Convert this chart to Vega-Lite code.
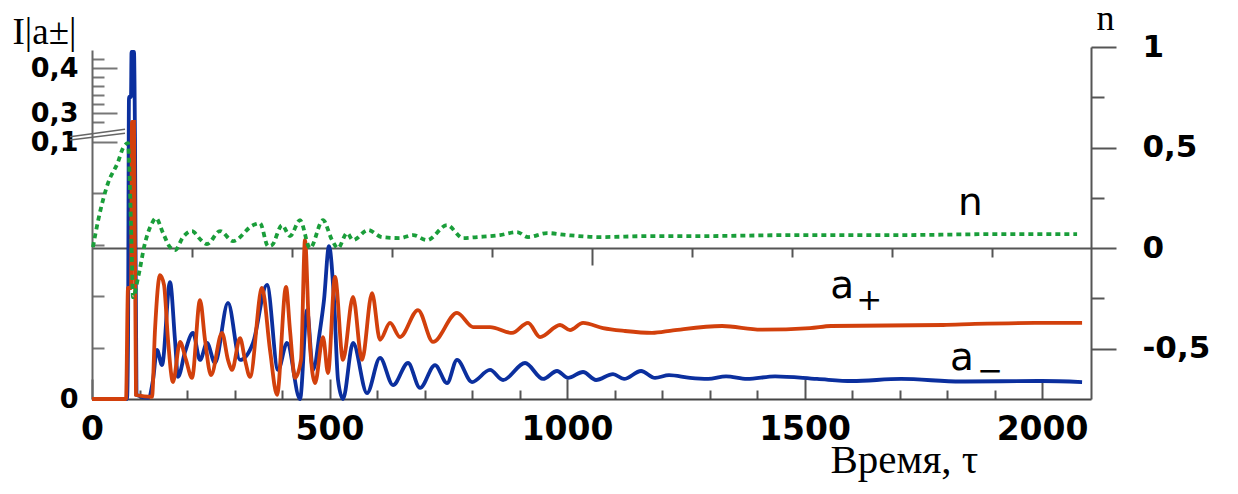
{
  "$schema": "https://vega.github.io/schema/vega-lite/v6.json",
  "width": 999,
  "height": 352,
  "autosize": "none",
  "padding": {"left": 92, "top": 47, "right": 147, "bottom": 95},
  "background": "white",
  "datasets": {
    "aminus": [
      {"tau": 0, "a": 0}, {"tau": 73.7, "a": 0}, {"tau": 75.8, "a": 0.0222}, {"tau": 77.9, "a": 0.3356}, {"tau": 82.1, "a": 0.3356},
      {"tau": 83.2, "a": 0.4356}, {"tau": 88.4, "a": 0.4356}, {"tau": 90.5, "a": 0.136}, {"tau": 93.7, "a": 0.0016}, {"tau": 117.9, "a": 0.0004},
      {"tau": 128.4, "a": 0.0074}, {"tau": 136.8, "a": 0.0191}, {"tau": 147.4, "a": 0.0132}, {"tau": 164.2, "a": 0.0455}, {"tau": 174.7, "a": 0.023},
      {"tau": 181.1, "a": 0.0086}, {"tau": 195.8, "a": 0.0183}, {"tau": 212.6, "a": 0.0257}, {"tau": 227.4, "a": 0.0152}, {"tau": 242.1, "a": 0.0218},
      {"tau": 258.9, "a": 0.014}, {"tau": 286.3, "a": 0.0374}, {"tau": 311.6, "a": 0.0152}, {"tau": 338.9, "a": 0.0218}, {"tau": 368.4, "a": 0.0444},
      {"tau": 391.6, "a": 0.0113}, {"tau": 410.5, "a": 0.0218}, {"tau": 437.9, "a": 0}, {"tau": 452.6, "a": 0.0346}, {"tau": 465.3, "a": 0.0113},
      {"tau": 480, "a": 0.0268}, {"tau": 488.4, "a": 0.0385}, {"tau": 498.9, "a": 0.0595}, {"tau": 509.5, "a": 0.0385}, {"tau": 517.9, "a": 0.0074},
      {"tau": 528.4, "a": 0}, {"tau": 549.5, "a": 0.0218}, {"tau": 578.9, "a": 0.0023}, {"tau": 606.3, "a": 0.016}, {"tau": 633.7, "a": 0.0054},
      {"tau": 665.3, "a": 0.014}, {"tau": 690.5, "a": 0.0043}, {"tau": 722.1, "a": 0.0132}, {"tau": 747.4, "a": 0.0062}, {"tau": 768.4, "a": 0.0152},
      {"tau": 800, "a": 0.0066}, {"tau": 837.9, "a": 0.0113}, {"tau": 865.3, "a": 0.0074}, {"tau": 911.6, "a": 0.014}, {"tau": 949.5, "a": 0.0078},
      {"tau": 978.9, "a": 0.0109}, {"tau": 1002.1, "a": 0.0082}, {"tau": 1033.7, "a": 0.0105}, {"tau": 1061.1, "a": 0.0074}, {"tau": 1096.8, "a": 0.0097},
      {"tau": 1120, "a": 0.0078}, {"tau": 1155.8, "a": 0.0109}, {"tau": 1185.3, "a": 0.0082}, {"tau": 1214.7, "a": 0.0093}, {"tau": 1258.9, "a": 0.0082},
      {"tau": 1296.8, "a": 0.0078}, {"tau": 1334.7, "a": 0.0088}, {"tau": 1378.9, "a": 0.0078}, {"tau": 1437.9, "a": 0.0088}, {"tau": 1526.3, "a": 0.0078},
      {"tau": 1600, "a": 0.007}, {"tau": 1703.2, "a": 0.0078}, {"tau": 1829.5, "a": 0.0068}, {"tau": 2000, "a": 0.007}, {"tau": 2084.2, "a": 0.0066}
    ],
    "aplus": [
      {"tau": 0, "a": 0}, {"tau": 71.6, "a": 0}, {"tau": 75.8, "a": 0.0432}, {"tau": 82.1, "a": 0.0432}, {"tau": 84.2, "a": 0.28},
      {"tau": 88.4, "a": 0.28}, {"tau": 92.6, "a": 0.0016}, {"tau": 126.3, "a": 0.0008}, {"tau": 132.6, "a": 0.0268}, {"tau": 143.2, "a": 0.0482},
      {"tau": 151.6, "a": 0.0444}, {"tau": 160, "a": 0.023}, {"tau": 170.5, "a": 0.0066}, {"tau": 185.3, "a": 0.0222}, {"tau": 197.9, "a": 0.0152},
      {"tau": 210.5, "a": 0.0082}, {"tau": 227.4, "a": 0.0385}, {"tau": 237.9, "a": 0.023}, {"tau": 250.5, "a": 0.0093}, {"tau": 273.7, "a": 0.0257},
      {"tau": 286.3, "a": 0.0152}, {"tau": 294.7, "a": 0.0113}, {"tau": 311.6, "a": 0.0237}, {"tau": 322.1, "a": 0.0152}, {"tau": 332.6, "a": 0.0086},
      {"tau": 357.9, "a": 0.0432}, {"tau": 374.7, "a": 0.0191}, {"tau": 389.5, "a": 0.0016}, {"tau": 408.4, "a": 0.0436}, {"tau": 416.8, "a": 0.0268},
      {"tau": 427.4, "a": 0.0082}, {"tau": 440, "a": 0.0152}, {"tau": 448.4, "a": 0.0619}, {"tau": 456.8, "a": 0.0268}, {"tau": 469.5, "a": 0.0062},
      {"tau": 486.3, "a": 0.0241}, {"tau": 496.8, "a": 0.0101}, {"tau": 511.6, "a": 0.0475}, {"tau": 528.4, "a": 0.0152}, {"tau": 549.5, "a": 0.0397},
      {"tau": 568.4, "a": 0.0152}, {"tau": 589.5, "a": 0.0412}, {"tau": 606.3, "a": 0.023}, {"tau": 627.4, "a": 0.0296}, {"tau": 648.4, "a": 0.0241},
      {"tau": 686.3, "a": 0.0346}, {"tau": 717.9, "a": 0.0222}, {"tau": 768.4, "a": 0.0335}, {"tau": 802.1, "a": 0.028}, {"tau": 837.9, "a": 0.028},
      {"tau": 884.2, "a": 0.0257}, {"tau": 917.9, "a": 0.0296}, {"tau": 943.2, "a": 0.0241}, {"tau": 985.3, "a": 0.0288}, {"tau": 1006.3, "a": 0.0268},
      {"tau": 1033.7, "a": 0.0296}, {"tau": 1075.8, "a": 0.0276}, {"tau": 1120, "a": 0.0265}, {"tau": 1178.9, "a": 0.0257}, {"tau": 1223.2, "a": 0.0267},
      {"tau": 1326.3, "a": 0.0284}, {"tau": 1408.4, "a": 0.027}, {"tau": 1511.6, "a": 0.0276}, {"tau": 1555.8, "a": 0.0284}, {"tau": 1791.6, "a": 0.0288},
      {"tau": 1858.9, "a": 0.0292}, {"tau": 1985, "a": 0.0296}, {"tau": 2084.2, "a": 0.0296}
    ],
    "slash": [
      {"tau": -46.3, "tau2": 69.5, "a": 0.1477, "a2": 0.2143},
      {"tau": -46.3, "tau2": 69.5, "a": 0.118, "a2": 0.1783}
    ],
    "nline": [
      {"tau": 2, "n": 0.005}, {"tau": 12.6, "n": 0.134}, {"tau": 33.7, "n": 0.323}, {"tau": 54.7, "n": 0.428}, {"tau": 65.3, "n": 0.498},
      {"tau": 75.8, "n": 0.522}, {"tau": 80, "n": 0.289}, {"tau": 84.2, "n": -0.075}, {"tau": 86.3, "n": -0.244}, {"tau": 96.8, "n": -0.149},
      {"tau": 111.6, "n": 0.025}, {"tau": 126.3, "n": 0.124}, {"tau": 134.7, "n": 0.149}, {"tau": 149.5, "n": 0.075}, {"tau": 164.2, "n": 0.005},
      {"tau": 174.7, "n": -0.01}, {"tau": 191.6, "n": 0.055}, {"tau": 210.5, "n": 0.085}, {"tau": 227.4, "n": 0.045}, {"tau": 242.1, "n": 0.02},
      {"tau": 269.5, "n": 0.085}, {"tau": 296.8, "n": 0.035}, {"tau": 338.9, "n": 0.114}, {"tau": 353.7, "n": 0.124}, {"tau": 370.5, "n": 0.01},
      {"tau": 378.9, "n": 0.015}, {"tau": 400, "n": 0.114}, {"tau": 416.8, "n": 0.06}, {"tau": 437.9, "n": 0.139}, {"tau": 458.9, "n": 0},
      {"tau": 486.3, "n": 0.139}, {"tau": 505.3, "n": 0.04}, {"tau": 517.9, "n": 0}, {"tau": 536.8, "n": 0.075}, {"tau": 549.5, "n": 0.04},
      {"tau": 581.1, "n": 0.09}, {"tau": 610.5, "n": 0.055}, {"tau": 648.4, "n": 0.05}, {"tau": 675.8, "n": 0.065}, {"tau": 705.3, "n": 0.04},
      {"tau": 747.4, "n": 0.114}, {"tau": 781.1, "n": 0.05}, {"tau": 810.5, "n": 0.055}, {"tau": 858.9, "n": 0.065}, {"tau": 894.7, "n": 0.08},
      {"tau": 917.9, "n": 0.055}, {"tau": 957.9, "n": 0.075}, {"tau": 1000, "n": 0.065}, {"tau": 1069.5, "n": 0.055}, {"tau": 1174.7, "n": 0.06},
      {"tau": 1280, "n": 0.06}, {"tau": 1490.5, "n": 0.065}, {"tau": 1701, "n": 0.065}, {"tau": 1911.6, "n": 0.07}, {"tau": 2073.7, "n": 0.07}
    ],
    "labels": [
      {"tau": 1823, "n": 0.164, "label": "n"},
      {"tau": 1554, "n": -0.249, "label": "a"},
      {"tau": 1806, "n": -0.607, "label": "a"}
    ],
    "subs": [
      {"tau": 1636, "n": -0.262, "label": "+"},
      {"tau": 1891, "n": -0.614, "label": "−"}
    ]
  },
  "layer": [
    {
      "encoding": {
        "x": {
          "field": "tau", "type": "quantitative",
          "scale": {"domain": [0, 2103], "nice": false, "zero": false},
          "axis": {
            "orient": "bottom",
            "values": [0, 100, 200, 300, 400, 500, 600, 700, 800, 900, 1000, 1100, 1200, 1300, 1400, 1500, 1600, 1700, 1800, 1900, 2000],
            "format": "d",
            "labelExpr": "datum.value % 500 === 0 ? datum.label : ''",
            "labelFontSize": 33,
            "labelPadding": 34,
            "tickSize": {"condition": {"test": "datum.value % 500 === 0", "value": -20}, "value": -9},
            "domainColor": "#444",
            "tickColor": "#555",
            "title": "Время, τ",
            "titleFontSize": 41,
            "titleX": 738,
            "titleY": 73,
            "titleAlign": "left",
            "titleBaseline": "alphabetic",
            "titleAnchor": null
          }
        },
        "y": {
          "field": "a", "type": "quantitative",
          "scale": {"domain": [0, 0.1, 0.28, 0.44], "range": [352, 95, 75, 3], "nice": false, "zero": false},
          "axis": {
            "orient": "left",
            "values": [0, 0.02, 0.04, 0.06, 0.08, 0.1, 0.28, 0.3, 0.32, 0.34, 0.36, 0.38, 0.4, 0.42],
            "labelExpr": "datum.value === 0 ? '0' : datum.value === 0.1 ? '0,1' : datum.value === 0.3 ? '0,3' : datum.value === 0.4 ? '0,4' : ''",
            "labelFontSize": 27,
            "labelPadding": 39,
            "tickSize": {"condition": {"test": "datum.value === 0 || datum.value === 0.1 || datum.value === 0.3 || datum.value === 0.4", "value": -25}, "value": -12},
            "domainColor": "#666",
            "tickColor": "#777",
            "title": "I|a±|",
            "titleAngle": 0,
            "titleFontSize": 37,
            "titleX": -80,
            "titleY": -4,
            "titleAlign": "left",
            "titleBaseline": "alphabetic",
            "titleAnchor": null
          }
        }
      },
      "layer": [
        {
          "data": {"name": "aminus"},
          "mark": {"type": "line", "color": "#0B2F9E", "strokeWidth": 3.8, "interpolate": "monotone"}
        },
        {
          "data": {"name": "aplus"},
          "mark": {"type": "line", "color": "#D2400C", "strokeWidth": 3.8, "interpolate": "monotone"}
        },
        {
          "data": {"name": "slash"},
          "mark": {"type": "rule", "color": "#666", "strokeWidth": 1.5},
          "encoding": {
            "x2": {"field": "tau2"},
            "y2": {"field": "a2"}
          }
        }
      ]
    },
    {
      "encoding": {
        "x": {
          "field": "tau", "type": "quantitative",
          "scale": {"domain": [0, 2103], "nice": false, "zero": false},
          "axis": {
            "orient": "bottom",
            "offset": -151,
            "values": [210.5, 421.1, 631.6, 842.1, 1052.6, 1263.2, 1473.7, 1684.2, 1894.7],
            "labels": false,
            "title": null,
            "tickSize": {"condition": {"test": "datum.value > 1000 && datum.value < 1100", "value": 17}, "value": 9},
            "domainColor": "#555",
            "tickColor": "#555"
          }
        },
        "y": {
          "field": "n", "type": "quantitative",
          "scale": {"domain": [-0.75, 1], "nice": false, "zero": false},
          "axis": {
            "orient": "right",
            "values": [-0.5, -0.25, 0, 0.25, 0.5, 0.75, 1],
            "labelExpr": "datum.value === 1 ? '1' : datum.value === 0.5 ? '0,5' : datum.value === 0 ? '0' : datum.value === -0.5 ? '-0,5' : ''",
            "labelFontSize": 31,
            "labelAlign": "left",
            "labelPadding": 26,
            "tickSize": {"condition": {"test": "datum.value % 0.5 === 0", "value": 25}, "value": 13},
            "domainColor": "#555",
            "tickColor": "#555",
            "title": "n",
            "titleAngle": 0,
            "titleFontSize": 36,
            "titleX": 14,
            "titleY": -46,
            "titleAlign": "center",
            "titleBaseline": "top",
            "titleAnchor": null
          }
        }
      },
      "layer": [
        {
          "data": {"name": "nline"},
          "mark": {"type": "line", "color": "#1A9E3A", "strokeWidth": 3.8, "strokeDash": [5, 4], "interpolate": "monotone"}
        },
        {
          "data": {"name": "labels"},
          "mark": {"type": "text", "font": "DejaVu Sans", "fontSize": 39, "align": "left", "baseline": "alphabetic", "color": "black"},
          "encoding": {"text": {"field": "label"}}
        },
        {
          "data": {"name": "subs"},
          "mark": {"type": "text", "font": "DejaVu Sans", "fontSize": 31, "align": "center", "baseline": "middle", "color": "black"},
          "encoding": {"text": {"field": "label"}}
        }
      ]
    }
  ],
  "resolve": {"scale": {"y": "independent"}, "axis": {"x": "independent"}},
  "config": {
    "view": {"stroke": null},
    "axis": {
      "grid": false,
      "labelFont": "DejaVu Sans",
      "labelFontWeight": "bold",
      "labelColor": "black",
      "domainWidth": 2,
      "tickWidth": 2,
      "labelOverlap": false,
      "labelFlush": false,
      "labelBound": false,
      "titleFont": "Liberation Serif",
      "titleFontWeight": "normal",
      "titleColor": "black"
    }
  }
}
